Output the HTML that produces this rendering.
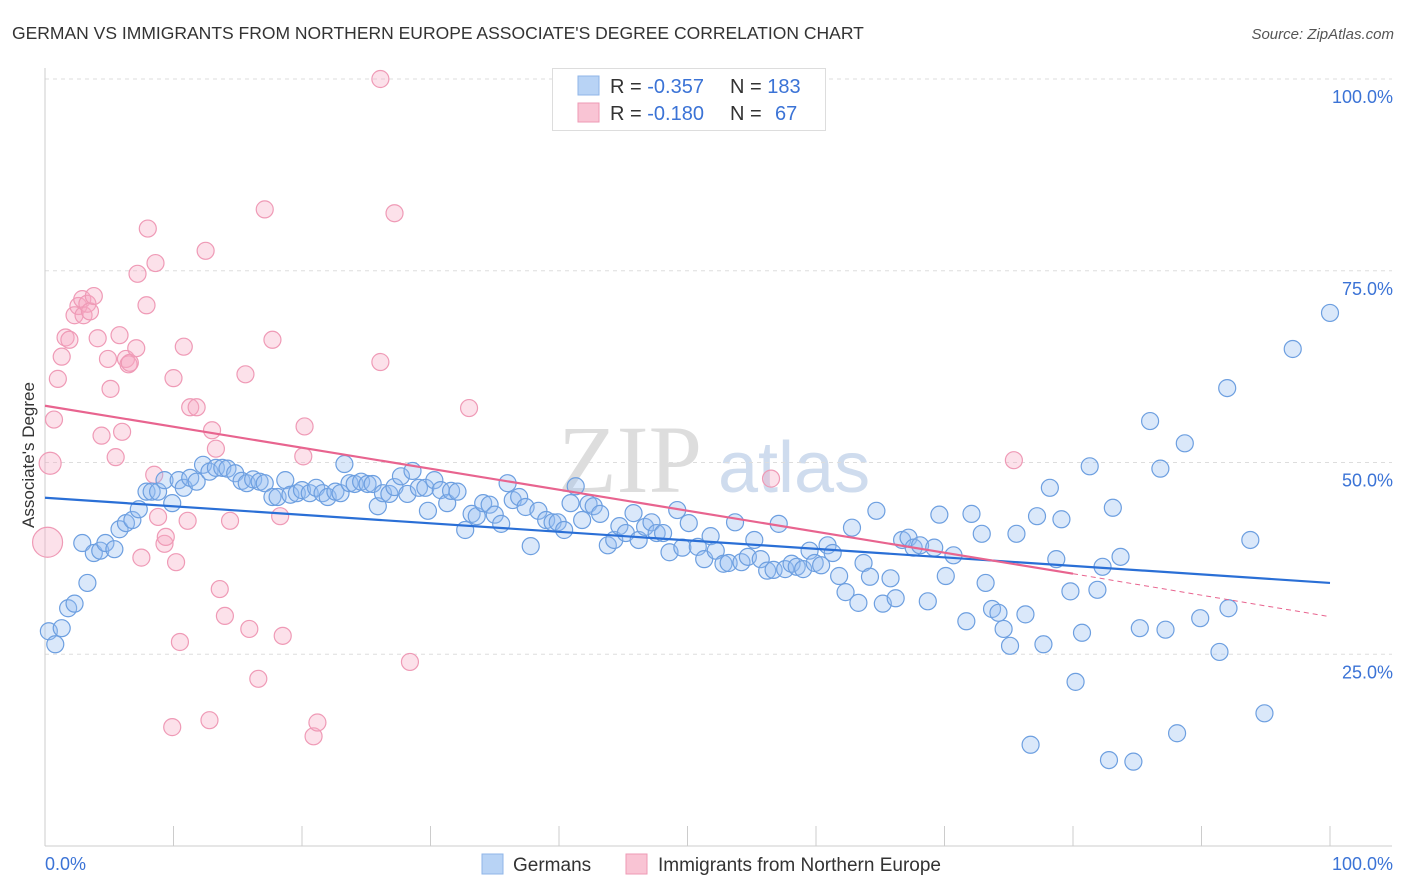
<!DOCTYPE html>
<html><head><meta charset="utf-8"><style>
body{margin:0;background:#fff;font-family:"Liberation Sans",sans-serif;}
svg{display:block}
</style></head><body>
<svg id="chart" width="1406" height="892">
<text x="12" y="39" font-size="17.5" fill="#333">GERMAN VS IMMIGRANTS FROM NORTHERN EUROPE ASSOCIATE'S DEGREE CORRELATION CHART</text>
<text x="1394" y="39" font-size="15" fill="#555" font-style="italic" text-anchor="end">Source: ZipAtlas.com</text>
<text x="558" y="492" font-size="96" fill="#ddd" font-family="Liberation Serif,serif">ZIP</text>
<text x="718" y="492" font-size="72" fill="#cfdcee">atlas</text>
<g id="grid"></g>
<g id="axes"></g>
<g id="pts"></g>
<g id="trends"></g>
<text transform="translate(34,455) rotate(-90)" font-size="17" fill="#333" text-anchor="middle">Associate's Degree</text>
<g>
<rect x="552.5" y="68.5" width="273" height="62" fill="#fff" stroke="#ddd"/>
<rect x="578" y="76" width="21" height="19" fill="#b8d3f5" stroke="#8fb6e8"/>
<rect x="578" y="103" width="21" height="19" fill="#f9c4d4" stroke="#ee9ab5"/>
<text x="610" y="93" font-size="20" fill="#333">R = <tspan fill="#3b73d6">-0.357</tspan><tspan x="730">N = </tspan><tspan fill="#3b73d6">183</tspan></text>
<text x="610" y="120" font-size="20" fill="#333">R = <tspan fill="#3b73d6">-0.180</tspan><tspan x="730">N = </tspan><tspan x="775" fill="#3b73d6">67</tspan></text>
</g>
<g>
<rect x="482" y="854" width="21" height="20" fill="#b8d3f5" stroke="#8fb6e8"/>
<text x="513" y="871" font-size="19" fill="#333">Germans</text>
<rect x="626" y="854" width="21" height="20" fill="#f9c4d4" stroke="#ee9ab5"/>
<text x="658" y="871" font-size="19" fill="#333">Immigrants from Northern Europe</text>
</g>
</svg>
<script>
const yTicks=[25,50,75,100];
const yTickLabels=["25.0%","50.0%","75.0%","100.0%"];
const xTickLabels=["0.0%","100.0%"];
const blueX=[0.3,0.8,1.3,1.8,2.3,2.9,3.3,3.8,4.3,4.7,
5.4,5.8,6.3,6.8,7.3,7.9,8.3,8.8,9.3,9.9,
10.4,10.8,11.3,11.8,12.3,12.8,13.3,13.8,14.2,14.8,
15.3,15.7,16.2,16.7,17.1,17.7,18.1,18.7,19.1,19.6,
20.0,20.6,21.1,21.6,22.0,22.6,23.0,23.3,23.7,24.1,
24.6,25.1,25.5,25.9,26.3,26.8,27.2,27.7,28.2,28.6,
29.1,29.6,29.8,30.3,30.8,31.3,31.6,32.1,32.7,33.2,
33.6,34.1,34.6,35.0,35.5,36.0,36.4,36.9,37.4,37.8,
38.4,39.0,39.5,39.9,40.4,40.9,41.3,41.8,42.3,42.7,
43.2,43.8,44.3,44.7,45.2,45.8,46.2,46.7,47.2,47.6,
48.1,48.6,49.2,49.6,50.1,50.8,51.3,51.8,52.2,52.8,
53.2,53.7,54.2,54.7,55.2,55.7,56.2,56.7,57.1,57.6,
58.1,58.5,59.0,59.5,59.9,60.4,60.9,61.3,61.8,62.3,
62.8,63.3,63.7,64.2,64.7,65.2,65.8,66.2,66.7,67.2,
67.6,68.1,68.7,69.2,69.6,70.1,70.7,71.7,72.1,72.9,
73.2,73.7,74.2,74.6,75.1,75.6,76.3,76.7,77.2,77.7,
78.2,78.7,79.1,79.8,80.2,80.7,81.3,81.9,82.3,82.8,
83.1,83.7,84.7,85.2,86.0,86.8,87.2,88.1,88.7,89.9,
91.4,92.1,92.0,93.8,94.9,97.1,100.0];
const blueY=[28.0,26.3,28.4,31.0,31.6,39.5,34.3,38.2,38.5,39.5,
38.7,41.3,42.1,42.5,43.9,46.2,46.2,46.2,47.7,44.7,
47.7,46.7,48.0,47.5,49.7,48.8,49.3,49.3,49.2,48.6,
47.6,47.3,47.8,47.5,47.3,45.5,45.5,47.7,45.8,46.0,
46.4,46.0,46.7,46.0,45.5,46.2,46.0,49.8,47.3,47.2,
47.5,47.2,47.2,44.3,46.0,45.9,46.8,48.2,45.9,48.9,
46.7,46.7,43.7,47.7,46.4,44.7,46.3,46.2,41.2,43.3,
43.0,44.7,44.5,43.2,42.0,47.3,45.1,45.5,44.2,39.1,
43.7,42.5,42.2,42.2,41.2,44.7,46.9,42.5,44.6,44.3,
43.3,39.2,39.9,41.7,40.8,43.4,39.9,41.6,42.2,40.8,
40.8,38.3,43.8,38.9,42.1,39.0,37.4,40.4,38.5,36.8,
36.9,42.2,37.0,37.7,39.9,37.4,35.9,36.0,42.0,36.1,
36.8,36.4,36.1,38.5,36.9,36.6,39.2,38.2,35.2,33.1,
41.5,31.7,36.9,35.1,43.7,31.6,34.9,32.3,39.9,40.2,
38.9,39.2,31.9,38.9,43.2,35.2,37.9,29.3,43.3,40.7,
34.3,30.9,30.4,28.3,26.1,40.7,30.2,13.2,43.0,26.3,
46.7,37.4,42.6,33.2,21.4,27.8,49.5,33.4,36.4,11.2,
44.1,37.7,11.0,28.4,55.4,49.2,28.2,14.7,52.5,29.7,
25.3,31.0,59.7,39.9,17.3,64.8,69.5];
const pinkX=[0.2,0.4,0.7,1.0,1.3,1.6,1.9,2.3,2.6,2.9,3.0,3.3,3.5,3.8,4.1,4.4,4.9,5.1,5.5,5.8,6.0,6.3,6.5,6.6,7.1,7.2,7.5,7.9,8.0,8.5,8.6,8.8,9.3,9.4,9.9,10.0,10.2,10.5,10.8,11.1,11.3,11.8,12.5,12.8,13.0,13.3,13.6,14.0,14.4,15.6,15.9,16.6,17.1,17.7,18.3,18.5,20.1,20.2,20.9,21.2,26.1,26.1,27.2,28.4,33.0,56.5,75.4];
const pinkY=[39.6,49.9,55.6,60.9,63.8,66.3,66.0,69.2,70.4,71.3,69.2,70.7,69.7,71.7,66.2,53.5,63.5,59.6,50.7,66.6,54.0,63.5,62.8,63.0,64.9,74.6,37.6,70.5,80.5,48.4,76.0,42.9,39.4,40.3,15.5,61.0,37.0,26.6,65.1,42.4,57.2,57.2,77.6,16.4,54.2,51.8,33.5,30.0,42.4,61.5,28.3,21.8,83.0,66.0,43.0,27.4,50.8,54.7,14.3,16.1,100.0,63.1,82.5,24.0,57.1,47.9,50.3];
const blueTrend=[45.4,34.3];
const pinkTrend=[57.4,35.5,29.9];
const NS="http://www.w3.org/2000/svg";
const X0=45,X1=1330,Ytop=79,Ybot=846;
const xs=v=>X0+(X1-X0)*v/100;
const ys=v=>Ybot-(Ybot-Ytop)*v/100;
function mk(tag,attrs,parent){const e=document.createElementNS(NS,tag);for(const k in attrs)e.setAttribute(k,attrs[k]);document.getElementById(parent).appendChild(e);return e;}
yTicks.forEach((t,i)=>{
 const l=mk('line',{x1:X0,x2:1392,y1:ys(t),y2:ys(t),stroke:'#ddd','stroke-dasharray':'4,4'},'grid');
 
 
 const tx=mk('text',{x:1393,y:ys(t)+24,'font-size':18,fill:'#3b73d6','text-anchor':'end'},'grid');
 tx.textContent=yTickLabels[i];
 
 
});
const ax=mk('line',{x1:X0,x2:X0,y1:68,y2:Ybot,stroke:'#ccc'},'axes');


const bx=mk('line',{x1:X0,x2:1392,y1:Ybot,y2:Ybot,stroke:'#ccc'},'axes');


for(let i=1;i<=10;i++){const t=mk('line',{x1:xs(i*10),x2:xs(i*10),y1:826,y2:Ybot,stroke:'#ccc'},'axes');
 
 }
[[xTickLabels[0],X0,'start'],[xTickLabels[1],1393,'end']].forEach(([s,x,a])=>{
 const t=mk('text',{x:x,y:870,'font-size':18,fill:'#3b73d6','text-anchor':a},'axes');t.textContent=s;
 
 });
pinkX.forEach((v,i)=>{
 const r=(i<2)?(i==0?15:11):8.5;
 const c=mk('circle',{cx:xs(v),cy:ys(pinkY[i]),r:r,fill:'rgba(246,170,195,0.35)',stroke:'#ef9ab6','stroke-width':1.2},'pts');
 
 
});
blueX.forEach((v,i)=>{
 const c=mk('circle',{cx:xs(v),cy:ys(blueY[i]),r:8.5,fill:'rgba(150,190,240,0.35)',stroke:'#6d9fe0','stroke-width':1.2},'pts');
 
 
});
const bt=mk('line',{x1:xs(0),y1:ys(blueTrend[0]),x2:xs(100),y2:ys(blueTrend[1]),stroke:'#2a6fd6','stroke-width':2.2},'trends');


const pt=mk('line',{x1:xs(0),y1:ys(pinkTrend[0]),x2:xs(80),y2:ys(pinkTrend[1]),stroke:'#e8648f','stroke-width':2.2},'trends');


const pd=mk('line',{x1:xs(80),y1:ys(pinkTrend[1]),x2:xs(100),y2:ys(pinkTrend[2]),stroke:'#e8648f','stroke-width':1,'stroke-dasharray':'5,4'},'trends');


</script>
</body></html>
